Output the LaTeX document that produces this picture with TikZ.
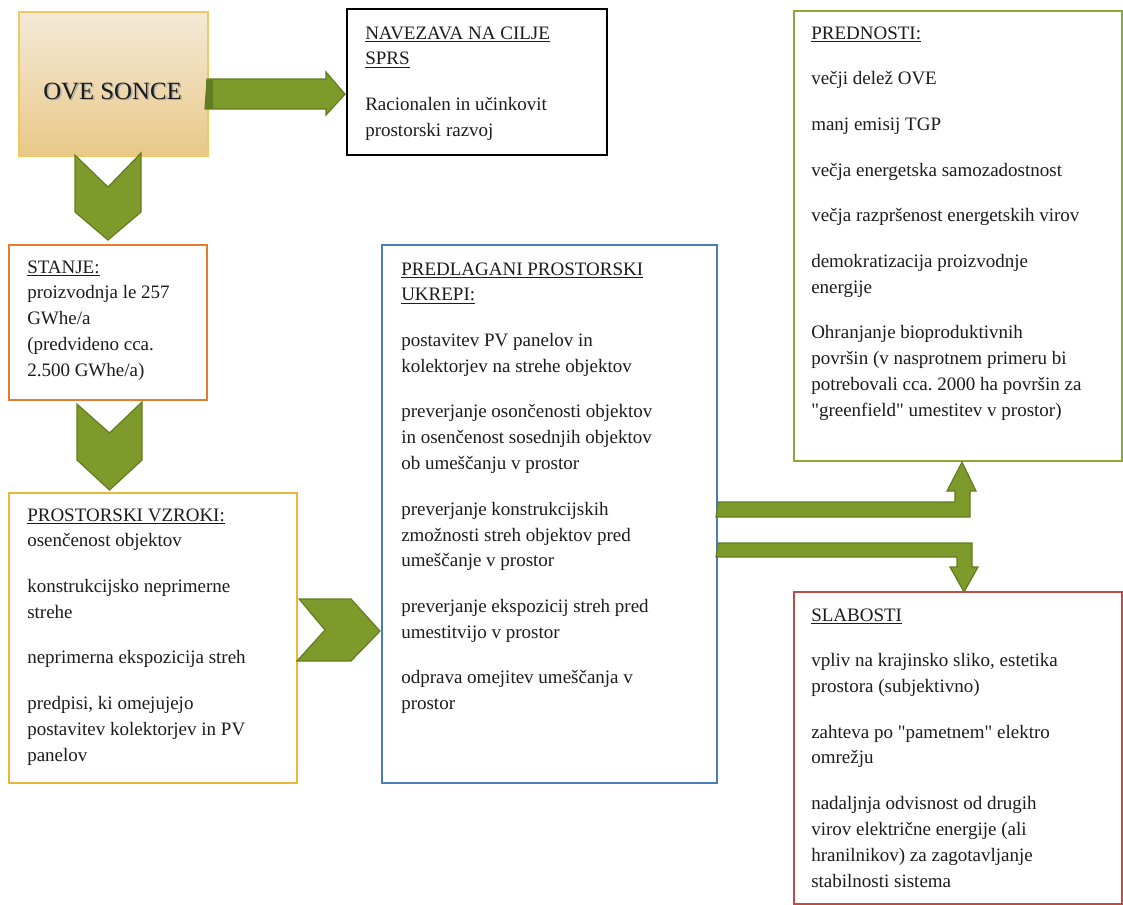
\documentclass[tikz,border=0pt]{standalone}
\usepackage{fontspec}
\setmainfont{Liberation Serif}[Ligatures=TeXOff]
\usetikzlibrary{calc}

\definecolor{inkc}{RGB}{30,27,28}
\definecolor{soncetop}{RGB}{245,234,216}
\definecolor{soncebot}{RGB}{232,200,135}
\definecolor{soncedge}{RGB}{240,201,98}
\definecolor{stanjec}{RGB}{230,124,45}
\definecolor{vzrokic}{RGB}{230,184,60}
\definecolor{ukrepic}{RGB}{74,126,187}
\definecolor{prednc}{RGB}{140,168,56}
\definecolor{slabc}{RGB}{190,75,72}
\definecolor{arrowfill}{RGB}{126,154,42}
\definecolor{arrowedge}{RGB}{98,124,32}

% body text of a panel: first baseline sits on the node's base anchor
\newcommand\boxtext[1]{\parbox[t]{250pt}{\fontsize{14.25pt}{19.35pt}\selectfont
  \frenchspacing\raggedright\setlength\parindent{0pt}\setlength\parskip{14.9pt}#1}}
\newcommand\headline[1]{\underline{#1}}

\tikzset{
  panel/.style={draw=#1, line width=1.6pt, rectangle, inner sep=0pt,
    anchor=north west, fill=white},
  panelsize/.style 2 args={minimum width=#1*0.75pt, minimum height=#2*0.75pt},
  body/.style={anchor=base west, inner sep=0pt, text=inkc},
  blockarrow/.style={fill=arrowfill, draw=arrowedge, line width=0.9pt,
    line join=miter},
}

\begin{document}
\begin{tikzpicture}[x=0.75pt,y=-0.75pt]
\useasboundingbox (0,0) rectangle (1123,904);

% ---------- panels ----------
\node[panel=soncedge, top color=soncetop, bottom color=soncebot,
      panelsize={189}{144}] (sonce) at (18,11) {};
\node[panel=black, line width=1.8pt, panelsize={260}{146}] (navez) at (346,8) {};
\node[panel=stanjec, panelsize={198}{155}] (stanje) at (8,244) {};
\node[panel=vzrokic, panelsize={288}{290}] (vzroki) at (8,492) {};
\node[panel=ukrepic, panelsize={335}{538}] (ukrepi) at (381,244) {};
\node[panel=prednc, panelsize={328}{450}] (pred) at (793,10) {};
\node[panel=slabc, panelsize={328}{312}] (slab) at (793,591) {};

% ---------- title of the source box ----------
\node[anchor=base, inner sep=0pt, text=black!35, font=\fontsize{18.6pt}{20pt}\selectfont]
  (soncesh) at (114,100.5) {OVE SONCE};
\node[anchor=base, inner sep=0pt, text=inkc, font=\fontsize{18.6pt}{20pt}\selectfont]
  (soncet) at (112.5,99) {OVE SONCE};

% ---------- panel texts ----------
\node[body] (navezt) at (365,39) {\boxtext{%
  \headline{NAVEZAVA NA CILJE}\\\headline{SPRS}\par
  Racionalen in učinkovit\\prostorski razvoj}};

\node[body] (stanjet) at (27,273) {\boxtext{%
  \headline{STANJE:}\\proizvodnja le 257\\GWhe/a\\(predvideno cca.\\2.500 GWhe/a)}};

\node[body] (vzrokit) at (27,521) {\boxtext{%
  \headline{PROSTORSKI VZROKI:}\\osenčenost objektov\par
  konstrukcijsko neprimerne\\strehe\par
  neprimerna ekspozicija streh\par
  predpisi, ki omejujejo\\postavitev kolektorjev in PV\\panelov}};

\node[body] (ukrepit) at (401,275) {\boxtext{%
  \headline{PREDLAGANI PROSTORSKI}\\\headline{UKREPI:}\par
  postavitev PV panelov in\\kolektorjev na strehe objektov\par
  preverjanje osončenosti objektov\\in osenčenost sosednjih objektov\\ob umeščanju v prostor\par
  preverjanje konstrukcijskih\\zmožnosti streh objektov pred\\umeščanje v prostor\par
  preverjanje ekspozicij streh pred\\umestitvijo v prostor\par
  odprava omejitev umeščanja v\\prostor}};

\node[body] (predt) at (811,39) {\boxtext{%
  \headline{PREDNOSTI:}\par
  večji delež OVE\par
  manj emisij TGP\par
  večja energetska samozadostnost\par
  večja razpršenost energetskih virov\par
  demokratizacija proizvodnje\\energije\par
  Ohranjanje bioproduktivnih\\površin (v nasprotnem primeru bi\\potrebovali cca. 2000 ha površin za\\"greenfield" umestitev v prostor)}};

\node[body] (slabt) at (811,621) {\boxtext{%
  \headline{SLABOSTI}\par
  vpliv na krajinsko sliko, estetika\\prostora (subjektivno)\par
  zahteva po "pametnem" elektro\\omrežju\par
  nadaljnja odvisnost od drugih\\virov električne energije (ali\\hranilnikov) za zagotavljanje\\stabilnosti sistema}};

% ---------- block arrows ----------
% source -> goals
\coordinate (r0) at ($(sonce.north east)+(-2,68)$);
\coordinate (r1) at ($(navez.west)+(-1,12)$);
\draw[blockarrow] (r0) -- (326,79) -- (326,72) -- (r1) -- (326,115) -- (326,109)
  -- (205,109) -- cycle;
\fill[arrowedge] (205.5,79.5) rectangle (213,108.5);

% source -> state
\coordinate (c0) at ($(sonce.south west)+(57,-2)$);
\coordinate (c1) at ($(stanje.north west)+(100,-4)$);
\draw[blockarrow] (c0) -- (108,187) -- (141,153) -- (141,212) -- (c1)
  -- (75,212) -- cycle;

% state -> causes
\coordinate (s0) at ($(stanje.south west)+(69,3)$);
\coordinate (s1) at ($(vzroki.north west)+(101.5,-2)$);
\draw[blockarrow] (s0) -- (109.5,433) -- (142,402) -- (142,460) -- (s1)
  -- (77,460) -- cycle;

% causes -> measures
\coordinate (h0) at ($(vzroki.north east)+(1,107)$);
\coordinate (h1) at ($(ukrepi.west)+(-1,117)$);
\draw[blockarrow] (h0) -- (351,599) -- (h1) -- (351,661) -- (297,661)
  -- (325,630) -- cycle;

% measures -> advantages
\coordinate (u0) at ($(ukrepi.north east)+(0,258)$);
\coordinate (u1) at ($(pred.south west)+(169,0)$);
\draw[blockarrow] (u0) -- (955,502) -- (955,491) -- (947,491) -- (u1) -- (976,491)
  -- (970,491) -- (970,517) -- (716,517) -- cycle;

% measures -> weaknesses
\coordinate (d0) at ($(ukrepi.north east)+(0,299)$);
\coordinate (d1) at ($(slab.north west)+(171,1)$);
\draw[blockarrow] (d0) -- (972,543) -- (972,567) -- (978,567) -- (d1) -- (950,567)
  -- (957,567) -- (957,557) -- (716,557) -- cycle;
\end{tikzpicture}
\end{document}
